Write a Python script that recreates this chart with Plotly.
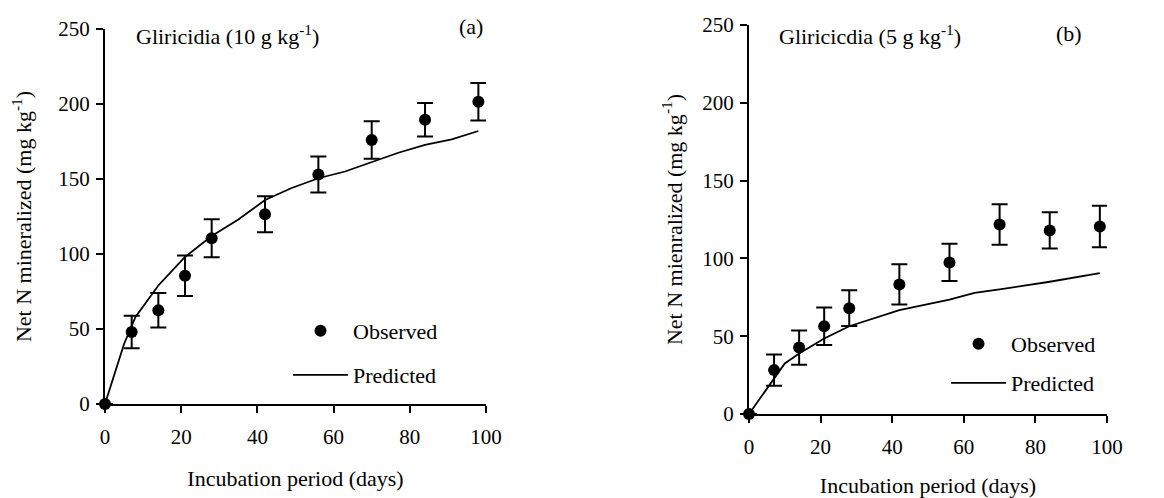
import plotly.graph_objects as go

W, H = 1164, 498
OFF = 8  # page body margin that shifts the figure

# ---------------- data ----------------
days_obs = [0, 7, 14, 21, 28, 42, 56, 70, 84, 98]

obs_a = [0, 48, 62.5, 85.5, 110.5, 126.5, 153, 176, 189.5, 201.5]
err_a = [0, 10.8, 11.5, 13.5, 12.7, 12, 12, 12.5, 11.2, 12.5]

obs_b = [0, 28.2, 42.7, 56.4, 68, 83.3, 97.4, 121.8, 118, 120.5]
err_b = [0, 10, 11, 12, 11.5, 13, 12, 13, 11.7, 13.3]

days_pred_a = [0, 1.5, 3, 5, 8, 14, 21, 28, 35, 42, 49, 56, 63, 70, 77, 84, 91, 98]
pred_a = [0, 12, 25, 40, 58, 79, 98, 112, 123, 136, 144, 150.5, 155, 161.5, 167.5, 172.7, 176.4, 182]

days_pred_b = [0, 4, 10, 14, 21, 28, 42, 56, 63, 70, 84, 98]
pred_b = [0, 13.2, 32.5, 38.9, 48.5, 56.4, 66.7, 73.5, 77.8, 80.1, 85, 90.6]

x_ticks = [0, 20, 40, 60, 80, 100]
y_ticks = [0, 50, 100, 150, 200, 250]

FONT = "Liberation Serif"
FS_TICK = 21
FS_TITLE = 22
FS_LEG = 22
FS_ANN = 22

def px_x(p):
    return (p - OFF) / W

def px_y(p):
    return (H - (p - OFF)) / H

fig = go.Figure()

err_style = dict(type="data", thickness=2, width=8, color="black")
mk = dict(size=12, color="black")
ln = dict(color="black", width=1.8)

fig.add_trace(go.Scatter(x=days_obs, y=obs_a, mode="markers", marker=mk, name="Observed",
                         error_y=dict(array=err_a, **err_style), xaxis="x", yaxis="y",
                         cliponaxis=False, legend="legend2"))
fig.add_trace(go.Scatter(x=days_pred_a, y=pred_a, mode="lines", line=ln, name="Predicted",
                         xaxis="x", yaxis="y", cliponaxis=False, legend="legend3"))
fig.add_trace(go.Scatter(x=days_obs, y=obs_b, mode="markers", marker=mk, name="Observed",
                         error_y=dict(array=err_b, **err_style), xaxis="x2", yaxis="y2",
                         cliponaxis=False, legend="legend4"))
fig.add_trace(go.Scatter(x=days_pred_b, y=pred_b, mode="lines", line=ln, name="Predicted",
                         xaxis="x2", yaxis="y2", cliponaxis=False, legend="legend5"))

axis_common = dict(showline=True, linecolor="black", linewidth=2, ticks="outside",
                   tickcolor="black", tickwidth=2, ticklen=7, showgrid=False, zeroline=False,
                   automargin=False,
                   tickfont=dict(family=FONT, size=FS_TICK, color="black"), fixedrange=True)
title_font = dict(family=FONT, size=FS_TITLE, color="black")

fig.update_layout(
    width=W, height=H,
    margin=dict(l=0, r=0, t=0, b=0, autoexpand=False),
    paper_bgcolor="white", plot_bgcolor="white",
    font=dict(family=FONT, size=FS_TICK, color="black"),
    xaxis=dict(domain=[px_x(105), px_x(486)], range=[0, 100], tickvals=x_ticks, anchor="y",
               ticklabelstandoff=6,
               title=dict(text="Incubation period (days)", standoff=22, font=title_font),
               **axis_common),
    yaxis=dict(domain=[px_y(404), px_y(29)], range=[0, 250], tickvals=y_ticks, anchor="x",
               ticklabelstandoff=2,
               title=dict(text="Net N mineralized (mg kg<sup>-1</sup>)", standoff=29,
                          font=title_font), **axis_common),
    xaxis2=dict(domain=[px_x(749), px_x(1107)], range=[0, 100], tickvals=x_ticks, anchor="y2",
                ticklabelstandoff=6,
                title=dict(text="Incubation period (days)", standoff=19, font=title_font),
                **axis_common),
    yaxis2=dict(domain=[px_y(414), px_y(25)], range=[0, 250], tickvals=y_ticks, anchor="x2",
                ticklabelstandoff=2,
                title=dict(text="Net N mienralized (mg kg<sup>-1</sup>)", standoff=14,
                           font=title_font), **axis_common),
)

leg_common = dict(xanchor="left", yanchor="middle", bgcolor="rgba(0,0,0,0)",
                  font=dict(family=FONT, size=FS_LEG, color="black"), itemwidth=55)
fig.update_layout(
    showlegend=True,
    legend2=dict(x=px_x(288), y=px_y(331), **leg_common),
    legend3=dict(x=px_x(288), y=px_y(375), **leg_common),
    legend4=dict(x=px_x(946), y=px_y(344), **leg_common),
    legend5=dict(x=px_x(946), y=px_y(383), **leg_common),
)

ann_font = dict(family=FONT, size=FS_ANN, color="black")
fig.add_annotation(text="Gliricidia (10 g kg<sup>-1</sup>)", xref="paper", yref="paper",
                   x=px_x(134), y=px_y(35), xanchor="left", yanchor="middle",
                   showarrow=False, font=ann_font)
fig.add_annotation(text="(a)", xref="paper", yref="paper",
                   x=px_x(485), y=px_y(26), xanchor="right", yanchor="middle",
                   showarrow=False, font=ann_font)
fig.add_annotation(text="Gliricicdia (5 g kg<sup>-1</sup>)", xref="paper", yref="paper",
                   x=px_x(777), y=px_y(35), xanchor="left", yanchor="middle",
                   showarrow=False, font=ann_font)
fig.add_annotation(text="(b)", xref="paper", yref="paper",
                   x=px_x(1084), y=px_y(34), xanchor="right", yanchor="middle",
                   showarrow=False, font=ann_font)

fig.write_html("out.html")
